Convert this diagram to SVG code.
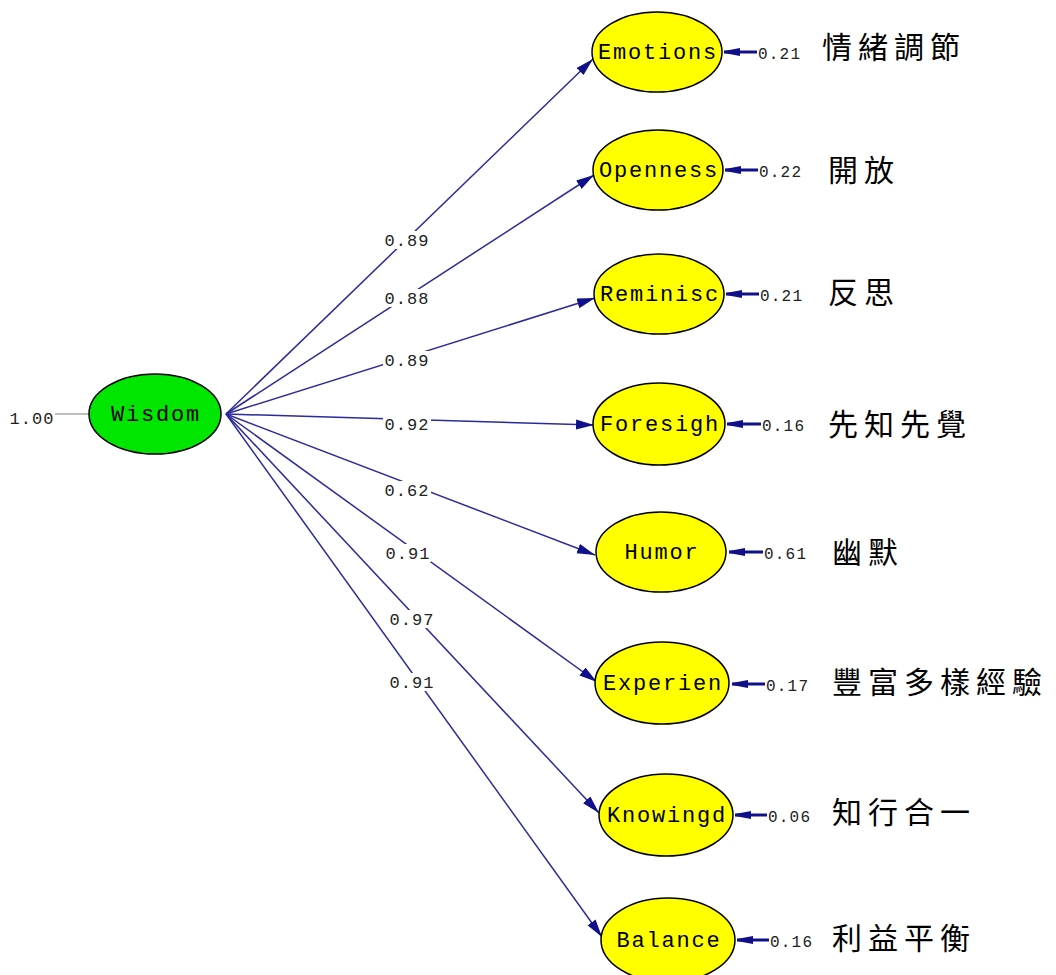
<svg xmlns="http://www.w3.org/2000/svg" width="1056" height="975" viewBox="0 0 1056 975">
<defs>
<marker id="ah" markerUnits="userSpaceOnUse" markerWidth="20" markerHeight="12" refX="18" refY="5" orient="auto">
<path d="M0,0 L18,5 L0,10 z" fill="#10108a"/>
</marker>
<marker id="eh" markerUnits="userSpaceOnUse" markerWidth="20" markerHeight="12" refX="16" refY="4" orient="auto">
<path d="M0,0 L16,3 L16,5 L0,8 z" fill="#10108a"/>
</marker>
<style>
.lat{fill:#00e600;stroke:#000;stroke-width:1.5}
.obs{fill:#ffff00;stroke:#000;stroke-width:1.5}
.nt{font-family:"Liberation Mono","DejaVu Sans Mono",monospace;font-size:22px;letter-spacing:1.8px;text-anchor:middle;fill:#000}
.path{stroke:#2a2a9c;stroke-width:1.5;fill:none;marker-end:url(#ah)}
.err{stroke:#10108a;stroke-width:3;fill:none;marker-end:url(#eh)}
.lb{font-family:"Liberation Mono","DejaVu Sans Mono",monospace;font-size:17px;letter-spacing:1px;text-anchor:middle;fill:#222}
.el{font-family:"Liberation Mono","DejaVu Sans Mono",monospace;font-size:16px;letter-spacing:1.2px;fill:#222}
.bg{fill:#fff}
.cn{font-family:"Noto Sans CJK TC","Noto Sans CJK SC",sans-serif;font-size:30px;letter-spacing:6px;fill:#000}
</style>
</defs>
<g id="connectors">
<line x1="55" y1="414" x2="89" y2="414" stroke="#aaaaaa" stroke-width="1.5"/>
<line class="path" x1="226" y1="414" x2="593" y2="59"/>
<line class="path" x1="226" y1="414" x2="594" y2="175"/>
<line class="path" x1="226" y1="414" x2="595" y2="298"/>
<line class="path" x1="226" y1="414" x2="594" y2="425"/>
<line class="path" x1="226" y1="414" x2="595" y2="555"/>
<line class="path" x1="226" y1="414" x2="597" y2="682"/>
<line class="path" x1="226" y1="414" x2="599" y2="813"/>
<line class="path" x1="226" y1="414" x2="602" y2="937"/>
<line class="err" x1="757" y1="52" x2="724" y2="52"/>
<line class="err" x1="758" y1="170" x2="725" y2="170"/>
<line class="err" x1="759" y1="294" x2="726" y2="294"/>
<line class="err" x1="761" y1="424" x2="727" y2="424"/>
<line class="err" x1="763" y1="552" x2="729" y2="552"/>
<line class="err" x1="765" y1="684" x2="732" y2="684"/>
<line class="err" x1="767" y1="815" x2="735" y2="815"/>
<line class="err" x1="769" y1="940" x2="737" y2="940"/>
<rect class="bg" x="383" y="231" width="48" height="18"/>
<text class="lb" x="407" y="246">0.89</text>
<rect class="bg" x="383" y="289" width="48" height="18"/>
<text class="lb" x="407" y="304">0.88</text>
<rect class="bg" x="383" y="351" width="48" height="18"/>
<text class="lb" x="407" y="366">0.89</text>
<rect class="bg" x="383" y="415" width="48" height="18"/>
<text class="lb" x="407" y="430">0.92</text>
<rect class="bg" x="383" y="481" width="48" height="18"/>
<text class="lb" x="407" y="496">0.62</text>
<rect class="bg" x="383" y="544" width="48" height="18"/>
<text class="lb" x="408" y="559">0.91</text>
<rect class="bg" x="388" y="610" width="48" height="18"/>
<text class="lb" x="412" y="625">0.97</text>
<rect class="bg" x="388" y="673" width="48" height="18"/>
<text class="lb" x="412" y="688">0.91</text>
<text class="lb" x="32" y="424">1.00</text>
</g>
<g id="Wisdom">
<ellipse class="lat" cx="155" cy="414" rx="66" ry="40"/>
<text class="nt" x="156" y="421">Wisdom</text>
</g>
<g id="Emotions">
<ellipse class="obs" cx="657" cy="52" rx="65" ry="40"/>
<text class="nt" x="658" y="59">Emotions</text>
<text class="el" x="758" y="59">0.21</text>
<text class="cn" x="822" y="58">情緒調節</text>
</g>
<g id="Openness">
<ellipse class="obs" cx="658" cy="170" rx="65" ry="40"/>
<text class="nt" x="659" y="177">Openness</text>
<text class="el" x="759" y="177">0.22</text>
<text class="cn" x="828" y="181">開放</text>
</g>
<g id="Reminisc">
<ellipse class="obs" cx="659" cy="294" rx="65" ry="40"/>
<text class="nt" x="660" y="301">Reminisc</text>
<text class="el" x="760" y="301">0.21</text>
<text class="cn" x="828" y="303">反思</text>
</g>
<g id="Foresigh">
<ellipse class="obs" cx="659" cy="424" rx="66" ry="41"/>
<text class="nt" x="660" y="431">Foresigh</text>
<text class="el" x="762" y="431">0.16</text>
<text class="cn" x="828" y="435">先知先覺</text>
</g>
<g id="Humor">
<ellipse class="obs" cx="661" cy="552" rx="65" ry="40"/>
<text class="nt" x="662" y="559">Humor</text>
<text class="el" x="764" y="559">0.61</text>
<text class="cn" x="832" y="563">幽默</text>
</g>
<g id="Experien">
<ellipse class="obs" cx="662" cy="683" rx="67" ry="41"/>
<text class="nt" x="663" y="690">Experien</text>
<text class="el" x="766" y="691">0.17</text>
<text class="cn" x="832" y="693">豐富多樣經驗</text>
</g>
<g id="Knowingd">
<ellipse class="obs" cx="666" cy="815" rx="67" ry="41"/>
<text class="nt" x="667" y="822">Knowingd</text>
<text class="el" x="768" y="822">0.06</text>
<text class="cn" x="832" y="823">知行合一</text>
</g>
<g id="Balance">
<ellipse class="obs" cx="668" cy="940" rx="67" ry="42"/>
<text class="nt" x="669" y="947">Balance</text>
<text class="el" x="770" y="947">0.16</text>
<text class="cn" x="832" y="949">利益平衡</text>
</g>
</svg>
